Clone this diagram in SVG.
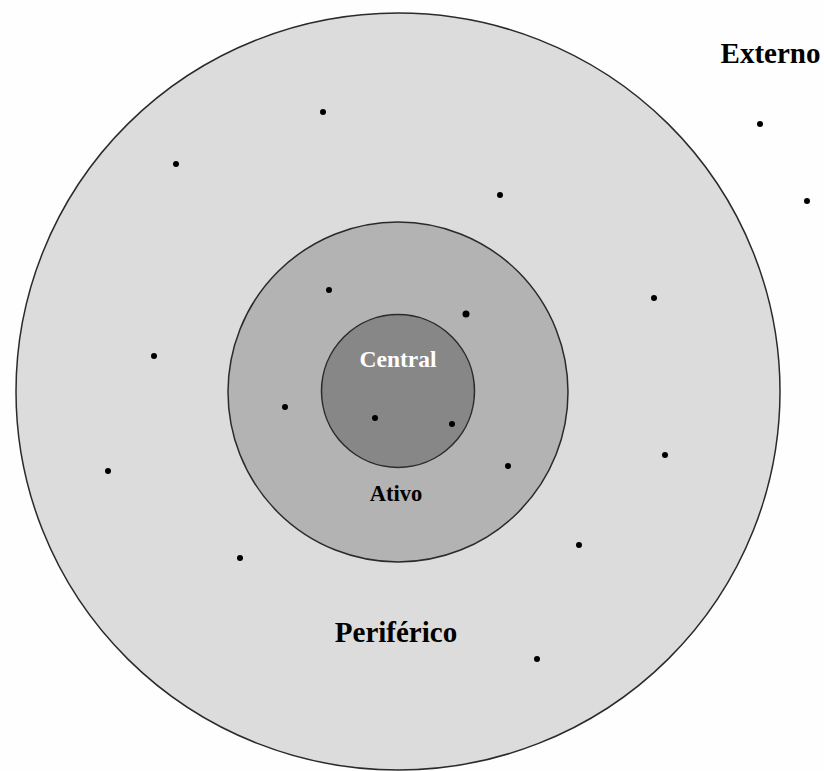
<svg xmlns="http://www.w3.org/2000/svg" width="824" height="771" viewBox="0 0 824 771">
<style>
.ring{stroke:#2a2a2a;stroke-width:1.5}
.lbl{font-family:"Liberation Serif","Times New Roman",serif;font-weight:bold;text-anchor:middle}
.dot{fill:#000}
</style>
<rect width="824" height="771" fill="#fefefe"/>
<g id="externo">
<text class="lbl" x="770.5" y="63" font-size="29" fill="#000">Externo</text>
</g>
<g id="periferico">
<ellipse class="ring" cx="398" cy="391.5" rx="382" ry="378.5" fill="#dcdcdc"/>
<text class="lbl" x="396" y="642" font-size="29" fill="#000">Periférico</text>
</g>
<g id="ativo">
<circle class="ring" cx="398" cy="392" r="170" fill="#b3b3b3"/>
<text class="lbl" x="396" y="501" font-size="22.5" fill="#000">Ativo</text>
</g>
<g id="central">
<circle class="ring" cx="398" cy="391" r="76.5" fill="#878787"/>
<text class="lbl" x="398" y="367" font-size="23.5" fill="#fff">Central</text>
</g>
<g id="dots">
<circle class="dot" cx="323" cy="112" r="3"/>
<circle class="dot" cx="176" cy="164" r="3"/>
<circle class="dot" cx="500" cy="195" r="3"/>
<circle class="dot" cx="760" cy="124" r="3"/>
<circle class="dot" cx="807" cy="201" r="3"/>
<circle class="dot" cx="329" cy="290" r="3"/>
<circle class="dot" cx="466" cy="314" r="3.5"/>
<circle class="dot" cx="654" cy="298" r="3"/>
<circle class="dot" cx="154" cy="356" r="3"/>
<circle class="dot" cx="285" cy="407" r="3"/>
<circle class="dot" cx="375" cy="418" r="3"/>
<circle class="dot" cx="452" cy="424" r="3"/>
<circle class="dot" cx="508" cy="466" r="3"/>
<circle class="dot" cx="665" cy="455" r="3"/>
<circle class="dot" cx="108" cy="471" r="3"/>
<circle class="dot" cx="240" cy="558" r="3"/>
<circle class="dot" cx="579" cy="545" r="3"/>
<circle class="dot" cx="537" cy="659" r="3"/>
</g>
</svg>
